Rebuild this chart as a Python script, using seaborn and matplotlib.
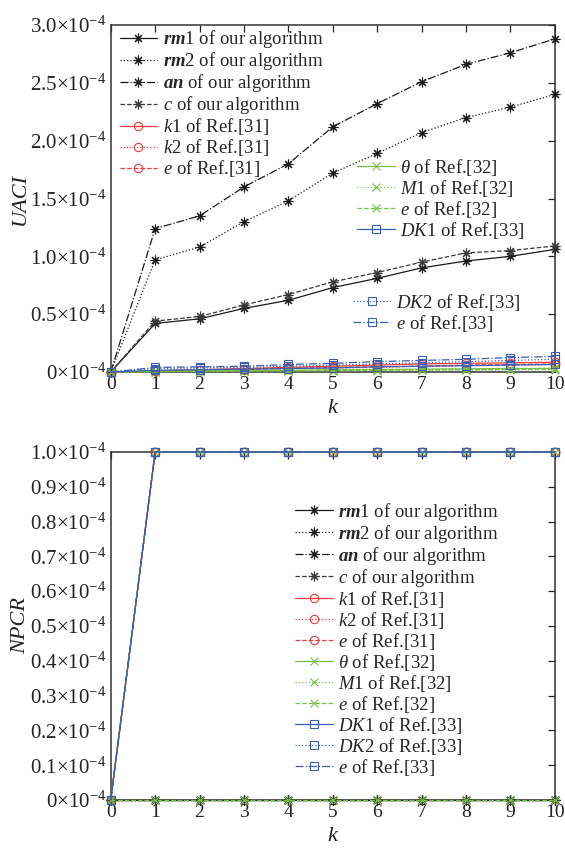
import numpy as np
import pandas as pd
import matplotlib
matplotlib.use("Agg")
import matplotlib.pyplot as plt
from matplotlib.ticker import FuncFormatter
import seaborn as sns

sns.set_theme(style="white")
plt.rcParams["font.family"] = ["Liberation Serif", "DejaVu Serif"]
plt.rcParams["mathtext.fontset"] = "custom"
plt.rcParams["mathtext.rm"] = "Liberation Serif"
plt.rcParams["mathtext.it"] = "Liberation Serif:italic"
plt.rcParams["mathtext.bf"] = "Liberation Serif:bold:italic"

k = list(range(0, 11))

# UACI values, in units of 1e-4
uaci_rm1 = [0, 0.42, 0.46, 0.55, 0.62, 0.73, 0.81, 0.90, 0.96, 1.00, 1.06]
uaci_rm2 = [0, 0.97, 1.08, 1.30, 1.48, 1.72, 1.89, 2.07, 2.20, 2.29, 2.40]
uaci_an = [0, 1.24, 1.35, 1.60, 1.80, 2.12, 2.32, 2.51, 2.66, 2.76, 2.88]
uaci_c = [0, 0.44, 0.48, 0.58, 0.67, 0.78, 0.86, 0.95, 1.03, 1.05, 1.09]
uaci_k1 = [0, 0.010, 0.020, 0.030, 0.040, 0.050, 0.060, 0.070, 0.075, 0.080, 0.085]
uaci_k2 = [0, 0.008, 0.015, 0.020, 0.030, 0.035, 0.040, 0.050, 0.055, 0.060, 0.065]
uaci_e31 = [0, 0.010, 0.015, 0.025, 0.030, 0.040, 0.045, 0.050, 0.060, 0.065, 0.070]
uaci_theta = [0, 0.005, 0.010, 0.012, 0.015, 0.020, 0.022, 0.025, 0.028, 0.030, 0.032]
uaci_m1 = [0, 0.002, 0.004, 0.006, 0.008, 0.010, 0.012, 0.014, 0.016, 0.018, 0.020]
uaci_e32 = [0, 0.003, 0.006, 0.008, 0.010, 0.013, 0.015, 0.018, 0.020, 0.022, 0.025]
uaci_dk1 = [0, 0.015, 0.020, 0.025, 0.030, 0.035, 0.045, 0.050, 0.055, 0.060, 0.065]
uaci_dk2 = [0, 0.030, 0.035, 0.040, 0.050, 0.060, 0.070, 0.080, 0.090, 0.100, 0.110]
uaci_e33 = [0, 0.040, 0.045, 0.050, 0.065, 0.075, 0.090, 0.100, 0.110, 0.125, 0.135]

# NPCR values, in units of 1e-4
npcr_ours = [0, 0, 0, 0, 0, 0, 0, 0, 0, 0, 0]
npcr_ref = [0, 1, 1, 1, 1, 1, 1, 1, 1, 1, 1]

labels = [
    r"$\mathbf{rm}$1 of our algorithm",
    r"$\mathbf{rm}$2 of our algorithm",
    r"$\mathbf{an}$ of our algorithm",
    r"$\mathit{c}$ of our algorithm",
    r"$\mathit{k}$1 of Ref.[31]",
    r"$\mathit{k}$2 of Ref.[31]",
    r"$\mathit{e}$ of Ref.[31]",
    r"$\theta$ of Ref.[32]",
    r"$\mathit{M}$1 of Ref.[32]",
    r"$\mathit{e}$ of Ref.[32]",
    r"$\mathit{DK}$1 of Ref.[33]",
    r"$\mathit{DK}$2 of Ref.[33]",
    r"$\mathit{e}$ of Ref.[33]",
]

BLACK = "#1a1a1a"
GREY = "#3a3a3a"
RED = "#ee3b3b"
GREEN = "#77c043"
BLUE = "#3a5fb0"
STAR = (8, 2, 0)

styles = [
    dict(color=BLACK, ls="-", marker=STAR, ms=7),
    dict(color=BLACK, ls=":", marker=STAR, ms=7),
    dict(color=BLACK, ls="-.", marker=STAR, ms=7),
    dict(color=GREY, ls="--", marker=STAR, ms=7),
    dict(color=RED, ls="-", marker="o", ms=6),
    dict(color=RED, ls=":", marker="o", ms=6),
    dict(color=RED, ls="--", marker="o", ms=6),
    dict(color=GREEN, ls="-", marker="x", ms=6),
    dict(color=GREEN, ls=":", marker="x", ms=6),
    dict(color=GREEN, ls="--", marker="x", ms=6),
    dict(color=BLUE, ls="-", marker="s", ms=6),
    dict(color=BLUE, ls=":", marker="s", ms=6),
    dict(color=BLUE, ls="-.", marker="s", ms=6),
]

uaci = [uaci_rm1, uaci_rm2, uaci_an, uaci_c, uaci_k1, uaci_k2, uaci_e31,
        uaci_theta, uaci_m1, uaci_e32, uaci_dk1, uaci_dk2, uaci_e33]
npcr = [npcr_ours, npcr_ours, npcr_ours, npcr_ours, npcr_ref, npcr_ref, npcr_ref,
        npcr_ref, npcr_ours, npcr_ours, npcr_ref, npcr_ref, npcr_ref]

fig = plt.figure(figsize=(5.65, 8.48), dpi=100)
ax1 = fig.add_axes([0.196, 0.5613, 0.786, 0.4092])
ax2 = fig.add_axes([0.196, 0.0566, 0.786, 0.4104])

TXT = "#222222"
FS = 13.5
XFS = 14
YFS = 15


def draw(ax, series):
    handles = []
    for vals, lab, st in zip(series, labels, styles):
        df = pd.DataFrame({"k": k, "v": vals})
        sns.lineplot(data=df, x="k", y="v", ax=ax, color=st["color"],
                     linestyle=st["ls"], marker=st["marker"], markersize=st["ms"],
                     markerfacecolor="none", markeredgecolor=st["color"],
                     markeredgewidth=0.8, linewidth=0.9, label=lab, legend=False,
                     clip_on=False, zorder=3)
        handles.append(ax.lines[-1])
    return handles


def style_axes(ax, ymax, step, ylabel):
    ax.set_xlim(0, 10)
    ax.set_ylim(0, ymax)
    ax.set_xticks(range(0, 11))
    ticks = np.round(np.arange(0, ymax + step / 2, step), 2)
    ax.set_yticks(ticks)

    def fmt(v, pos):
        s = "0" if abs(v) < 1e-9 else f"{v:.1f}"
        return s + r"$\times$10$^{-4}$"

    ax.yaxis.set_major_formatter(FuncFormatter(fmt))
    ax.tick_params(direction="in", length=5, width=0.9, top=True, right=True,
                   colors=TXT, pad=3)
    ax.tick_params(axis="x", labelsize=XFS)
    ax.tick_params(axis="y", labelsize=YFS)
    for sp in ax.spines.values():
        sp.set_color("#333333")
        sp.set_linewidth(1.1)
    ax.set_xlabel("k", fontsize=16, style="italic", color=TXT, labelpad=4)
    ax.set_ylabel(ylabel, fontsize=16, style="italic", color=TXT, labelpad=0)


leg_kw = dict(frameon=False, fontsize=FS, handlelength=2.0, handletextpad=0.3,
              labelspacing=0.0, borderpad=0, borderaxespad=0)

h1 = draw(ax1, uaci)
style_axes(ax1, 3.0, 0.5, "UACI")
lg_a = ax1.legend(h1[:7], labels[:7], loc="upper left", bbox_to_anchor=(0.02, 0.99), **leg_kw)
ax1.add_artist(lg_a)
lg_b = ax1.legend(h1[7:11], labels[7:11], loc="upper left", bbox_to_anchor=(0.555, 0.62), **leg_kw)
ax1.add_artist(lg_b)
ax1.legend(h1[11:], labels[11:], loc="upper left", bbox_to_anchor=(0.545, 0.232), **leg_kw)

h2 = draw(ax2, npcr)
style_axes(ax2, 1.0, 0.1, "NPCR")
ax2.legend(h2, labels, loc="upper left", bbox_to_anchor=(0.415, 0.86), **leg_kw)

fig.savefig("out.png", dpi=100)
